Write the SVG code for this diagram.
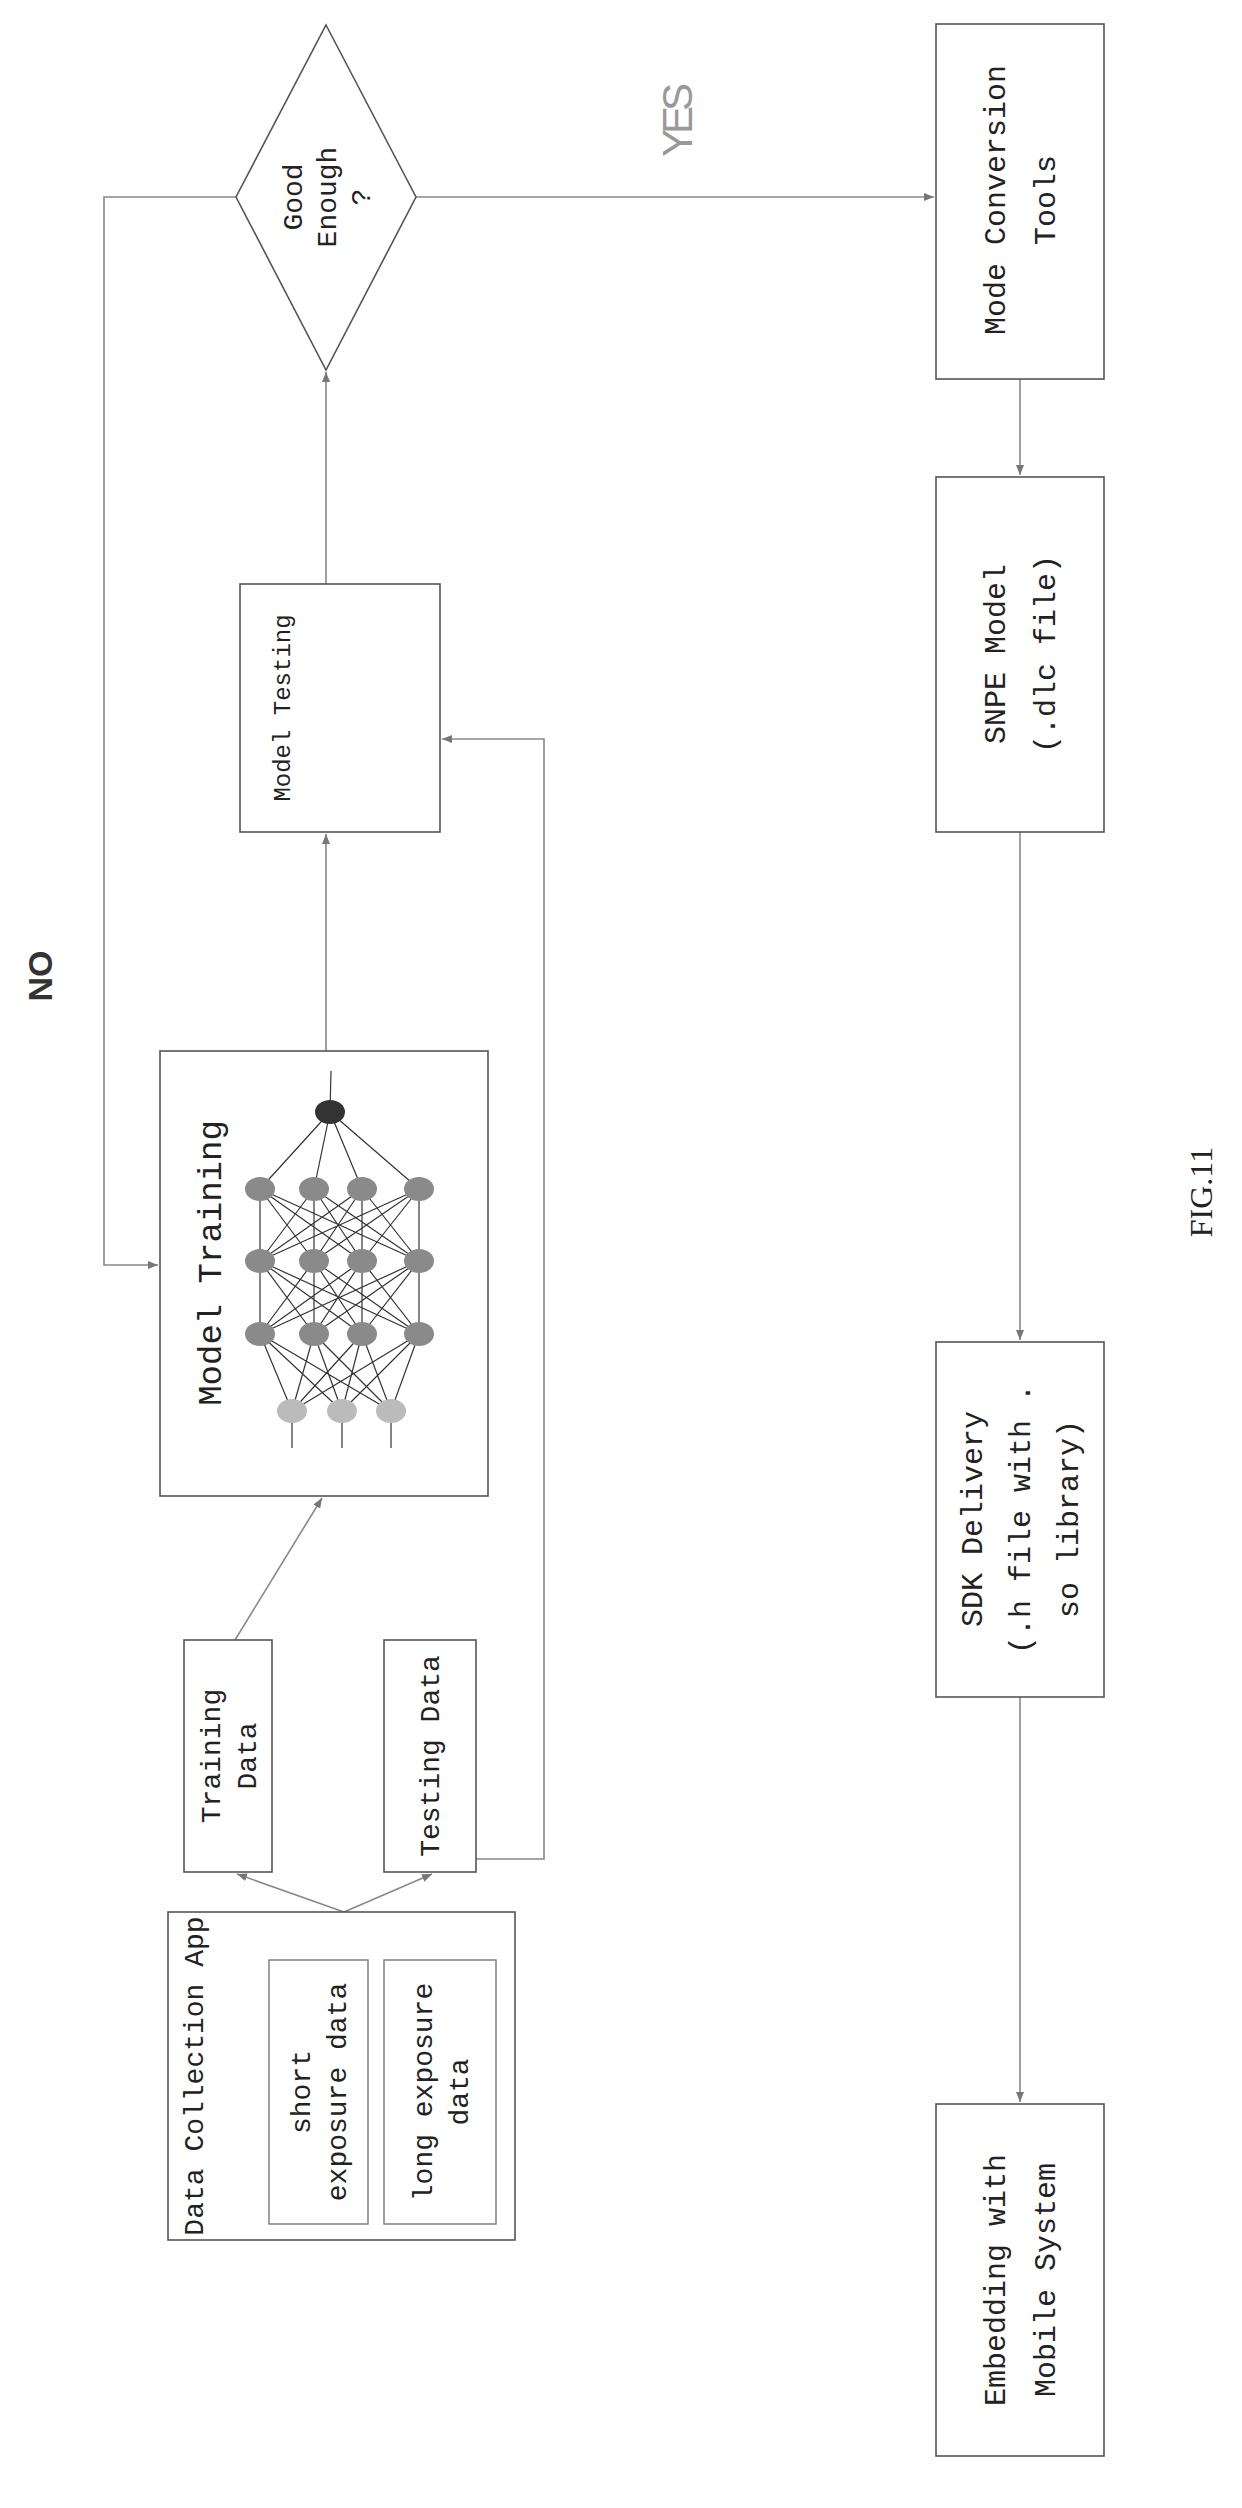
<svg xmlns="http://www.w3.org/2000/svg" width="1242" height="2508" viewBox="0 0 1242 2508">
<style>
.box{fill:#fff;stroke:#555;stroke-width:1.6}
.ib{fill:none;stroke:#777;stroke-width:1.4}
.t{font-family:"Liberation Mono",monospace;font-size:28px;fill:#222;text-anchor:middle}
.c{fill:none;stroke:#888;stroke-width:1.6}
.nn{stroke:#333;stroke-width:1.2}
</style>
<defs>
<marker id="a" viewBox="0 0 10 10" refX="10" refY="5" markerWidth="10" markerHeight="10" orient="auto" markerUnits="userSpaceOnUse"><path d="M0,1 L10,5 L0,9 Z" fill="#777"/></marker>
</defs>
<rect width="1242" height="2508" fill="#fff"/>
<g id="connectors">
<line class="c" x1="344" y1="1912" x2="237" y2="1874" marker-end="url(#a)"/>
<line class="c" x1="344" y1="1912" x2="432" y2="1874" marker-end="url(#a)"/>
<line class="c" x1="235" y1="1640" x2="322" y2="1498" marker-end="url(#a)"/>
<polyline class="c" points="476,1859 544,1859 544,739 442,739" marker-end="url(#a)"/>
<line class="c" x1="326" y1="1051" x2="326" y2="834" marker-end="url(#a)"/>
<line class="c" x1="326" y1="584" x2="326" y2="372" marker-end="url(#a)"/>
<polyline class="c" points="236,197 104,197 104,1265 158,1265" marker-end="url(#a)"/>
<line class="c" x1="416" y1="197" x2="934" y2="197" marker-end="url(#a)"/>
<line class="c" x1="1020" y1="379" x2="1020" y2="475" marker-end="url(#a)"/>
<line class="c" x1="1020" y1="832" x2="1020" y2="1340" marker-end="url(#a)"/>
<line class="c" x1="1020" y1="1697" x2="1020" y2="2102" marker-end="url(#a)"/>
</g>
<g id="dataCollection">
<rect class="box" x="168" y="1912" width="347" height="328"/>
<text class="t" transform="translate(194,2076) rotate(-90)" dy="9">Data Collection App</text>
<rect class="ib" x="269" y="1960" width="99" height="264"/>
<text class="t" transform="translate(318,2092) rotate(-90)"><tspan x="0" dy="-8">short</tspan><tspan x="0" dy="36">exposure data</tspan></text>
<rect class="ib" x="384" y="1960" width="112" height="264"/>
<text class="t" transform="translate(440,2092) rotate(-90)"><tspan x="0" dy="-8">long exposure</tspan><tspan x="0" dy="36">data</tspan></text>
</g>
<g id="trainingData">
<rect class="box" x="184" y="1640" width="88" height="232"/>
<text class="t" transform="translate(228,1756) rotate(-90)"><tspan x="0" dy="-8">Training</tspan><tspan x="0" dy="36">Data</tspan></text>
</g>
<g id="testingData">
<rect class="box" x="384" y="1640" width="92" height="232"/>
<text class="t" transform="translate(430,1756) rotate(-90)" dy="9">Testing Data</text>
</g>
<g id="modelTraining">
<rect class="box" x="160" y="1051" width="328" height="445"/>
<text class="t" style="font-size:34px" transform="translate(210,1263) rotate(-90)" dy="11">Model Training</text>
<g class="nn" fill="none">
<line x1="330" y1="1112" x2="331" y2="1071"/>
<line x1="292" y1="1411" x2="292" y2="1448"/><line x1="342" y1="1411" x2="342" y2="1448"/><line x1="391" y1="1411" x2="391" y2="1448"/>
<path d="M330,1112L260,1189M330,1112L314,1189M330,1112L362,1189M330,1112L419,1189"/>
<path d="M260,1189L260,1261M260,1189L314,1261M260,1189L362,1261M260,1189L419,1261M314,1189L260,1261M314,1189L314,1261M314,1189L362,1261M314,1189L419,1261M362,1189L260,1261M362,1189L314,1261M362,1189L362,1261M362,1189L419,1261M419,1189L260,1261M419,1189L314,1261M419,1189L362,1261M419,1189L419,1261"/>
<path d="M260,1261L260,1334M260,1261L314,1334M260,1261L362,1334M260,1261L419,1334M314,1261L260,1334M314,1261L314,1334M314,1261L362,1334M314,1261L419,1334M362,1261L260,1334M362,1261L314,1334M362,1261L362,1334M362,1261L419,1334M419,1261L260,1334M419,1261L314,1334M419,1261L362,1334M419,1261L419,1334"/>
<path d="M260,1334L292,1411M260,1334L342,1411M260,1334L391,1411M314,1334L292,1411M314,1334L342,1411M314,1334L391,1411M362,1334L292,1411M362,1334L342,1411M362,1334L391,1411M419,1334L292,1411M419,1334L342,1411M419,1334L391,1411"/>
</g>
<ellipse cx="330" cy="1112" rx="15" ry="12" fill="#333"/>
<g fill="#8a8a8a">
<ellipse cx="260" cy="1189" rx="15" ry="12"/><ellipse cx="314" cy="1189" rx="15" ry="12"/><ellipse cx="362" cy="1189" rx="15" ry="12"/><ellipse cx="419" cy="1189" rx="15" ry="12"/>
<ellipse cx="260" cy="1261" rx="15" ry="12"/><ellipse cx="314" cy="1261" rx="15" ry="12"/><ellipse cx="362" cy="1261" rx="15" ry="12"/><ellipse cx="419" cy="1261" rx="15" ry="12"/>
<ellipse cx="260" cy="1334" rx="15" ry="12"/><ellipse cx="314" cy="1334" rx="15" ry="12"/><ellipse cx="362" cy="1334" rx="15" ry="12"/><ellipse cx="419" cy="1334" rx="15" ry="12"/>
</g>
<g fill="#bbb">
<ellipse cx="292" cy="1411" rx="15" ry="12"/><ellipse cx="342" cy="1411" rx="15" ry="12"/><ellipse cx="391" cy="1411" rx="15" ry="12"/>
</g>
</g>
<g id="modelTesting">
<rect class="box" x="240" y="584" width="200" height="248"/>
<text class="t" style="font-size:24px" transform="translate(282,708) rotate(-90)" dy="8">Model Testing</text>
</g>
<g id="goodEnough">
<polygon class="box" points="326,25 416,197 326,370 236,197"/>
<text class="t" transform="translate(326,197) rotate(-90)"><tspan x="0" dy="-24">Good</tspan><tspan x="0" dy="34">Enough</tspan><tspan x="0" dy="34">?</tspan></text>
</g>
<g id="modeConversion">
<rect class="box" x="936" y="24" width="168" height="355"/>
<text class="t" style="font-size:30px" transform="translate(1020,200) rotate(-90)"><tspan x="0" dy="-15">Mode Conversion</tspan><tspan x="0" dy="50">Tools</tspan></text>
</g>
<g id="snpe">
<rect class="box" x="936" y="477" width="168" height="355"/>
<text class="t" style="font-size:30px" transform="translate(1020,654) rotate(-90)"><tspan x="0" dy="-15">SNPE Model</tspan><tspan x="0" dy="50">(.dlc file)</tspan></text>
</g>
<g id="sdk">
<rect class="box" x="936" y="1342" width="168" height="355"/>
<text class="t" style="font-size:30px" transform="translate(1020,1519) rotate(-90)"><tspan x="0" dy="-38">SDK Delivery</tspan><tspan x="0" dy="48">(.h file with .</tspan><tspan x="0" dy="48">so library)</tspan></text>
</g>
<g id="embedding">
<rect class="box" x="936" y="2104" width="168" height="352"/>
<text class="t" style="font-size:30px" transform="translate(1020,2280) rotate(-90)"><tspan x="0" dy="-15">Embedding with</tspan><tspan x="0" dy="50">Mobile System</tspan></text>
</g>
<text transform="translate(52,976) rotate(-90)" text-anchor="middle" font-family="Liberation Sans,sans-serif" font-size="34" font-weight="bold" fill="#333">NO</text>
<text transform="translate(692,120) rotate(-90)" text-anchor="middle" font-family="Liberation Sans,sans-serif" font-size="42" textLength="74" fill="#999">YES</text>
<text transform="translate(1212,1192) rotate(-90)" text-anchor="middle" font-family="Liberation Serif,serif" font-size="32" fill="#222">FIG.11</text>
</svg>
